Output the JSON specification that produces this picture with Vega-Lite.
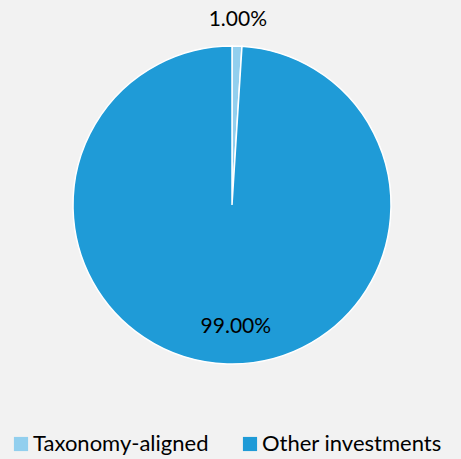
{
  "$schema": "https://vega.github.io/schema/vega-lite/v6.json",
  "width": 464,
  "height": 410,
  "autosize": {"type": "none"},
  "padding": {"left": 0, "top": 0, "right": 0, "bottom": 49},
  "background": "#f2f2f2",
  "config": {"view": {"stroke": null}, "font": "Lato"},
  "data": {"values": [
    {"category": "Taxonomy-aligned", "value": 1, "label": "1.00%"},
    {"category": "Other investments", "value": 99, "label": "99.00%"}
  ]},
  "encoding": {
    "theta": {"field": "value", "type": "quantitative", "stack": true},
    "order": {"field": "category", "sort": "descending"}
  },
  "layer": [
    {
      "mark": {"type": "arc", "outerRadius": 159, "stroke": "white", "strokeWidth": 1.5},
      "encoding": {
        "color": {
          "field": "category", "type": "nominal",
          "scale": {"domain": ["Taxonomy-aligned", "Other investments"], "range": ["#92cfee", "#1f9bd7"]},
          "legend": {
            "title": null, "orient": "none", "legendX": 10, "legendY": 433,
            "direction": "horizontal", "symbolType": "square", "symbolSize": 200,
            "symbolStrokeWidth": 0, "labelFontSize": 22, "labelColor": "#000000",
            "columnPadding": 30, "labelOffset": 1, "labelLimit": 300
          }
        }
      }
    },
    {
      "transform": [{"filter": "datum.category === 'Taxonomy-aligned'"}],
      "mark": {"type": "text", "radius": 185, "fontSize": 21, "baseline": "middle", "color": "#000000"},
      "encoding": {"text": {"field": "label"}}
    },
    {
      "transform": [{"filter": "datum.category === 'Other investments'"}],
      "mark": {"type": "text", "radius": 122, "fontSize": 21, "baseline": "middle", "color": "#000000"},
      "encoding": {"text": {"field": "label"}}
    }
  ]
}
